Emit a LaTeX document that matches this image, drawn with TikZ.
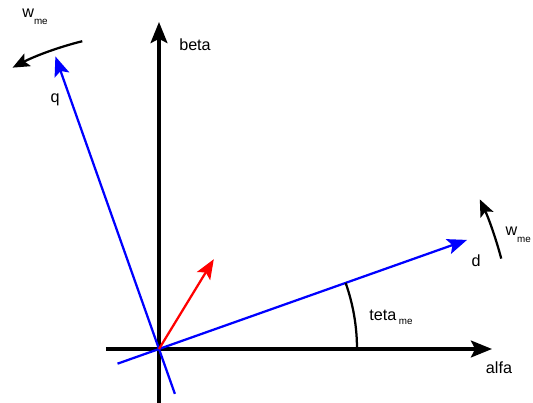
\documentclass[tikz,border=0pt]{standalone}
\usepackage{fontspec}
\setmainfont{Liberation Sans}
\usetikzlibrary{arrows.meta}

\begin{document}
\begin{tikzpicture}[every node/.style={font=\fontsize{11.5}{13}\selectfont,inner sep=1pt},
  axis/.style={line width=2.2pt,-{Stealth[length=15pt,width=12pt,inset=3pt]}},
  vec/.style={line width=1.6pt,-{Stealth[length=14pt,width=11pt,inset=3pt]}},
  turn/.style={line width=1.6pt,-{Stealth[length=12pt,width=10pt,inset=2.5pt]}}]
  \useasboundingbox (-3.975,-1.35) rectangle (9.35,8.725);
  \coordinate (o) at (0,0);
  \coordinate (alfa0) at (-1.325,0);
  \coordinate (alfa1) at (8.325,0);
  \coordinate (beta0) at (0,-1.35);
  \coordinate (beta1) at (0,8.175);
  \coordinate (d0) at (199.5:1.1);
  \coordinate (d1) at (19.5:8.17);
  \coordinate (q0) at (289.5:1.19);
  \coordinate (q1) at (109.5:7.76);
  \coordinate (i1) at (58.6:2.63);
  \coordinate (teta0) at (0:4.95);
  \coordinate (wq0) at (104:7.93);
  \coordinate (wd0) at (14.8:8.85);
  \draw[axis] (alfa0)--(alfa1);
  \draw[axis] (beta0)--(beta1);
  \draw[vec,blue] (d0)--(d1);
  \draw[vec,blue] (q0)--(q1);
  \draw[vec,red] (o)--(i1);
  \draw[line width=1.6pt] (teta0) arc (0:19.5:4.95);
  \draw[turn] (wq0) arc (104:117.5:7.93);
  \draw[turn] (wd0) arc (14.8:25:8.85);
  \node (alfa) at (8.5,-0.475) {alfa};
  \node (beta) at (0.9,7.6) {beta};
  \node (d) at (7.925,2.2) {d};
  \node (q) at (-2.6,6.225) {q};
  \node (teta) at (5.8,0.8) {teta\,\raisebox{-3pt}{\fontsize{7}{8}\selectfont me}};
  \node (wq) at (-3.1,8.3) {w\raisebox{-5pt}{\fontsize{7}{8}\selectfont me}};
  \node[anchor=east] (wd) at (9.34,2.85) {w\raisebox{-5pt}{\fontsize{7}{8}\selectfont me}};
\end{tikzpicture}
\end{document}
